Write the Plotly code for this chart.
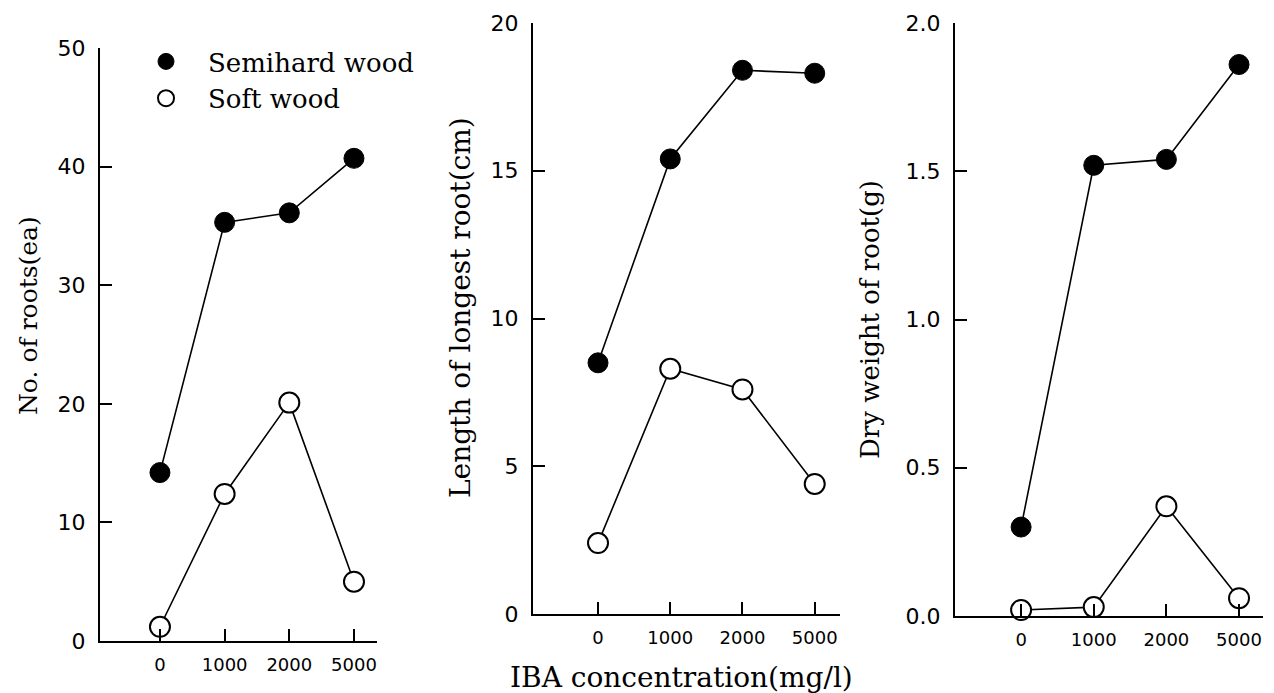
import plotly.graph_objects as go

conc = ["0", "1000", "2000", "5000"]

roots_semihard = [14.2, 35.3, 36.1, 40.7]
roots_soft = [1.2, 12.4, 20.1, 5.0]

length_semihard = [8.5, 15.4, 18.4, 18.3]
length_soft = [2.4, 8.3, 7.6, 4.4]

dry_semihard = [0.30, 1.52, 1.54, 1.86]
dry_soft = [0.02, 0.03, 0.37, 0.06]

W, H = 1274, 693
TICKFONT_Y = dict(family="DejaVu Sans", size=22, color="black")
TICKFONT_X = dict(family="DejaVu Sans", size=18, color="black")
SERIF = "DejaVu Serif"

fig = go.Figure()

panels = [
    (roots_semihard, roots_soft, "x", "y"),
    (length_semihard, length_soft, "x2", "y2"),
    (dry_semihard, dry_soft, "x3", "y3"),
]

for semi, soft, xa, ya in panels:
    fig.add_trace(go.Scatter(
        x=conc, y=semi, xaxis=xa, yaxis=ya, mode="lines+markers",
        line=dict(color="black", width=1.6),
        marker=dict(symbol="circle", size=20, color="black",
                    line=dict(color="black", width=1)),
        showlegend=False, cliponaxis=False))
    fig.add_trace(go.Scatter(
        x=conc, y=soft, xaxis=xa, yaxis=ya, mode="lines+markers",
        line=dict(color="black", width=1.6),
        marker=dict(symbol="circle", size=20, color="white",
                    line=dict(color="black", width=2)),
        showlegend=False, cliponaxis=False))

# legend-only entries
fig.add_trace(go.Scatter(x=[None], y=[None], mode="markers", name="Semihard wood",
                         marker=dict(symbol="circle", size=19, color="black",
                                     line=dict(color="black", width=1))))
fig.add_trace(go.Scatter(x=[None], y=[None], mode="markers", name="Soft wood",
                         marker=dict(symbol="circle", size=19, color="white",
                                     line=dict(color="black", width=2))))


def px_x(p):
    return p / W


def px_y(p):
    return 1 - p / H


axis_common = dict(showline=True, linecolor="black", linewidth=2,
                   ticks="inside", ticklen=12, tickwidth=1.5, tickcolor="black",
                   showgrid=False, zeroline=False, automargin=False)

xa_common = dict(type="category", tickfont=TICKFONT_X, ticklabelstandoff=6, **axis_common)
ya_common = dict(tickfont=TICKFONT_Y, ticklabelstandoff=8, **axis_common)

fig.update_layout(
    width=W, height=H, autosize=False,
    margin=dict(l=0, r=0, t=0, b=0, pad=0, autoexpand=False),
    paper_bgcolor="white", plot_bgcolor="white",
    xaxis=dict(domain=[px_x(100), px_x(377)], range=[-0.927, 3.356], anchor="y", **xa_common),
    yaxis=dict(domain=[px_y(641), px_y(48)], range=[0, 50], tickvals=[0, 10, 20, 30, 40, 50],
               anchor="x", **ya_common),
    xaxis2=dict(domain=[px_x(533), px_x(840)], range=[-0.90, 3.35], anchor="y2", **xa_common),
    yaxis2=dict(domain=[px_y(614), px_y(23)], range=[0, 20], tickvals=[0, 5, 10, 15, 20],
                anchor="x2", **ya_common),
    xaxis3=dict(domain=[px_x(955), px_x(1263)], range=[-0.91, 3.33], anchor="y3", **xa_common),
    yaxis3=dict(domain=[px_y(616), px_y(23)], range=[0, 2], tickvals=[0, 0.5, 1.0, 1.5, 2.0],
                tickformat=".1f", anchor="x3", **ya_common),
    legend=dict(x=px_x(124), y=px_y(38), xanchor="left", yanchor="top",
                font=dict(family=SERIF, size=26, color="black"),
                itemwidth=74,
                bgcolor="rgba(0,0,0,0)", tracegroupgap=0),
    showlegend=True,
)

annotations = [
    dict(text="No. of roots(ea)", x=px_x(29), y=px_y(316), textangle=-90,
         font=dict(family=SERIF, size=25, color="black")),
    dict(text="Length of longest root(cm)", x=px_x(460), y=px_y(308), textangle=-90,
         font=dict(family=SERIF, size=28, color="black")),
    dict(text="Dry weight of root(g)", x=px_x(870), y=px_y(320), textangle=-90,
         font=dict(family=SERIF, size=26, color="black")),
    dict(text="IBA concentration(mg/l)", x=px_x(681), y=px_y(677), textangle=0,
         font=dict(family=SERIF, size=28, color="black")),
]
for a in annotations:
    fig.add_annotation(xref="paper", yref="paper", xanchor="center", yanchor="middle",
                       showarrow=False, **a)

fig.write_html("out.html", config={"displayModeBar": False},
               post_script="document.body.style.margin='0px';")
